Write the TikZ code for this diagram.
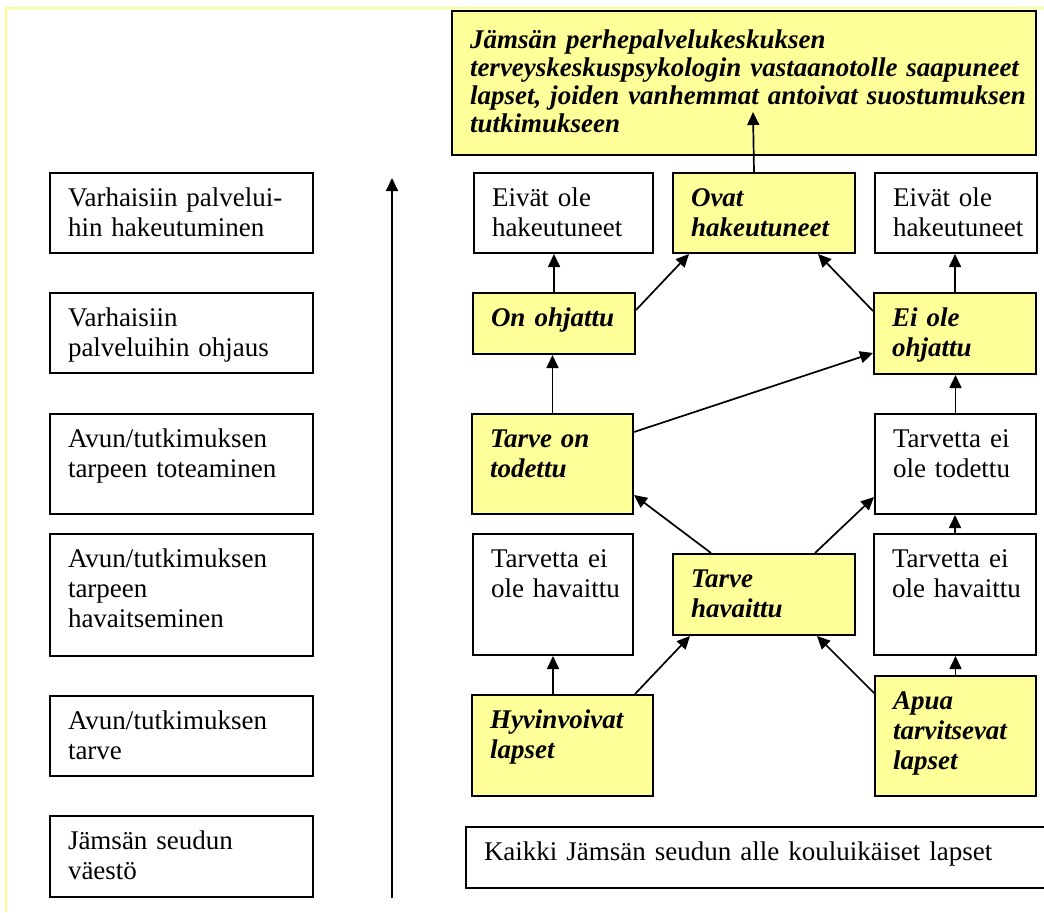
\documentclass[tikz,border=0pt]{standalone}
\usepackage{fontspec}
\setmainfont{Liberation Serif}
\usepackage{tikz}
\usetikzlibrary{arrows.meta}
\definecolor{paleyellow}{HTML}{FFFF99}
\definecolor{framey}{HTML}{FFFF88}

\begin{document}
\begin{tikzpicture}[x=0.5pt,y=-0.5pt,
    lvl/.style={draw=black, line width=1pt, anchor=north west, inner xsep=0pt, inner ysep=0pt,
                align=left, text height=16.5pt, font=\fontsize{13.5}{15}\selectfont,
                execute at begin node={\leftskip=9pt\rightskip=-8pt plus 1fil\hyphenpenalty=10000}},
    hot/.style={lvl, fill=paleyellow, font=\fontsize{13.5}{15}\selectfont\bfseries\itshape},
    up/.style={-{Triangle[length=6.5pt,width=6pt]}, line width=0.85pt}]
    \useasboundingbox (0,0) rectangle (1044,912);
    \draw[framey, line width=1pt] (6,912) -- (6,8) -- (1044,8);
    % vasen sarake
    \node[lvl, text width=131.5pt, text depth=23.5pt] (hakeut) at (49,172) {Varhaisiin palvelui-\\hin hakeutuminen};
    \node[lvl, text width=131.5pt, text depth=23.5pt] (ohjaus) at (49,292) {Varhaisiin\\palveluihin ohjaus};
    \node[lvl, text width=131.5pt, text depth=33.5pt] (toteam) at (49,413) {Avun/tutkimuksen\\tarpeen toteaminen};
    \node[lvl, text width=131.5pt, text depth=44.5pt] (havaits) at (49,533) {Avun/tutkimuksen\\tarpeen\\havaitseminen};
    \node[lvl, text width=131.5pt, text depth=23.5pt] (tarve) at (49,695) {Avun/tutkimuksen\\tarve};
    \node[lvl, text width=131.5pt, text depth=24pt] (vaesto) at (49,815) {Jämsän seudun\\väestö};
    \coordinate (aika0) at (392,898);
    \coordinate (aika1) at (392,178);
    \draw[up] (aika0) -- (aika1);
    % oikea puoli
    \node[hot, text width=292pt, text height=18.5pt, text depth=53.5pt,
          font=\fontsize{13.5}{14}\selectfont\bfseries\itshape] (psyk) at (451,10)
        {Jämsän perhepalvelukeskuksen\\terveyskeskuspsykologin vastaanotolle saapuneet\\lapset, joiden vanhemmat antoivat suostumuksen\\tutkimukseen};
    \node[lvl, text width=89.5pt, text depth=23.5pt] (eivat1) at (473,172) {Eivät ole\\hakeutuneet};
    \node[hot, text width=91pt, text depth=23.5pt] (ovat) at (672,172) {Ovat\\hakeutuneet};
    \node[lvl, text width=81pt, text depth=23.5pt] (eivat2) at (874,172) {Eivät ole\\hakeutuneet};
    \node[hot, text width=81pt, text depth=14pt] (onohj) at (472,292) {On ohjattu};
    \node[hot, text width=81pt, text depth=24pt] (eiohj) at (873,292) {Ei ole\\ohjattu};
    \node[hot, text width=80.5pt, text depth=33.5pt] (todettu) at (471,413) {Tarve on\\todettu};
    \node[lvl, text width=80.5pt, text depth=33.5pt] (eitod) at (874,413) {Tarvetta ei\\ole todettu};
    \node[lvl, text width=80pt, text depth=44pt] (eihav1) at (472,533) {Tarvetta ei\\ole havaittu};
    \node[hot, text width=91pt, text depth=24pt] (havaittu) at (672,553) {Tarve\\havaittu};
    \node[lvl, text width=81pt, text depth=44pt] (eihav2) at (873,533) {Tarvetta ei\\ole havaittu};
    \node[hot, text width=90.5pt, text depth=34pt] (hyvin) at (471,694) {Hyvinvoivat\\lapset};
    \node[hot, text width=80.5pt, text depth=43.5pt] (apua) at (874,675) {Apua\\tarvitsevat\\lapset};
    \node[lvl, text width=300pt, text depth=14pt] (kaikki) at (465,826) {Kaikki Jämsän seudun alle kouluikäiset lapset};
    \coordinate (psykin) at (753,112);
    % nuolet
    \draw[up] ([xshift=-5pt]ovat.north) -- (psykin);
    \draw[up] (onohj.north) -- (onohj.north |- eivat1.south);
    \draw[up] ([yshift=-9pt]onohj.north east) -- ([xshift=8.5pt]ovat.south west);
    \draw[up] ([yshift=-9.5pt]eiohj.north west) -- ([xshift=-19pt]ovat.south east);
    \draw[up] (eiohj.north) -- (eiohj.north |- eivat2.south);
    \draw[up] (todettu.north) -- (todettu.north |- onohj.south);
    \draw[up] ([yshift=-9.5pt]todettu.north east) -- ([yshift=-30.5pt]eiohj.north west);
    \draw[up] (eitod.north) -- (eitod.north |- eiohj.south);
    \draw[up] ([xshift=19.5pt]havaittu.north west) -- ([yshift=10pt]todettu.south east);
    \draw[up] ([xshift=-20.5pt]havaittu.north east) -- ([yshift=9pt]eitod.south west);
    \draw[up] (eihav2.north) -- (eihav2.north |- eitod.south);
    \draw[up] (eihav1.south |- hyvin.north) -- (eihav1.south);
    \draw[up] ([xshift=-9.5pt]hyvin.north east) -- ([xshift=9pt]havaittu.south west);
    \draw[up] ([yshift=-9pt]apua.north west) -- ([xshift=-19.5pt]havaittu.south east);
    \draw[up] (apua.north) -- (apua.north |- eihav2.south);
\end{tikzpicture}
\end{document}
